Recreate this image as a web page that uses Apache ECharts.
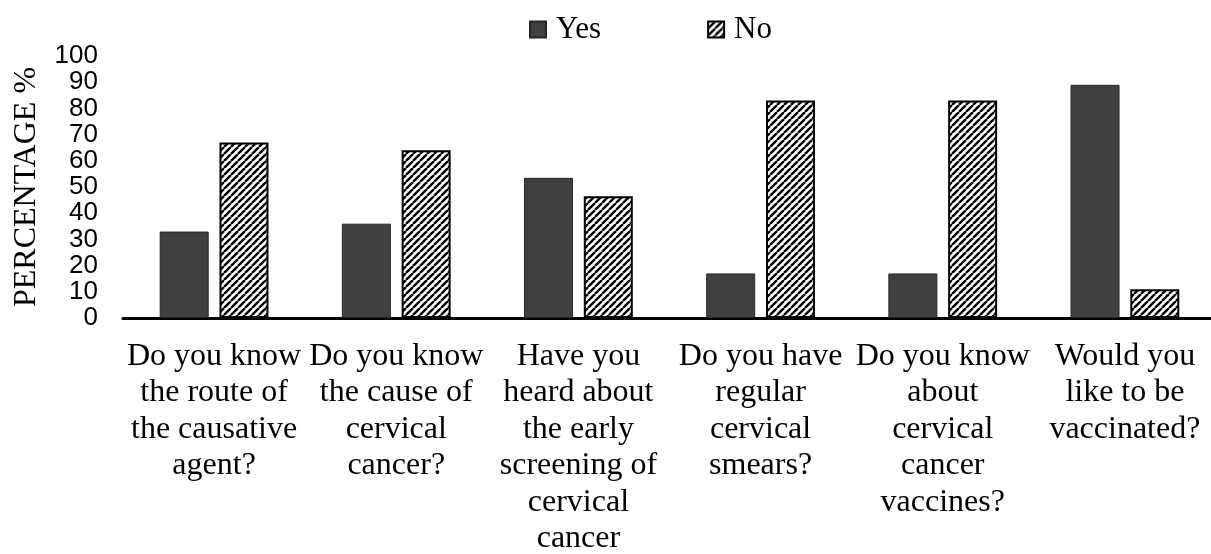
<!DOCTYPE html>
<html>
<head>
<meta charset="utf-8">
<script src="https://cdn.jsdelivr.net/npm/echarts@6/dist/echarts.min.js"></script>
<style>html,body{margin:0;padding:0;background:#fff}#c{width:1211px;height:554px}</style>
</head>
<body>
<div id="c"></div>
<script>
const categories = [
  "Do you know\nthe route of\nthe causative\nagent?",
  "Do you know\nthe cause of\ncervical\ncancer?",
  "Have you\nheard about\nthe early\nscreening of\ncervical\ncancer",
  "Do you have\nregular\ncervical\nsmears?",
  "Do you know\nabout\ncervical\ncancer\nvaccines?",
  "Would you\nlike to be\nvaccinated?"
];
const yesValues = [33, 36, 53.5, 17, 17, 89];
const noValues = [67, 64, 46.5, 83, 83, 11];
const seriesNames = ["Yes", "No"];
const yTicks = { min: 0, max: 100, interval: 10 };

function hatch() {
  const s = 7;
  const c = document.createElement('canvas');
  c.width = s; c.height = s;
  const g = c.getContext('2d');
  g.fillStyle = '#fff';
  g.fillRect(0, 0, s, s);
  g.strokeStyle = '#000';
  g.lineWidth = 2.4;
  g.beginPath();
  for (let k = -1; k <= 1; k++) {
    g.moveTo(k * s, s);
    g.lineTo(k * s + s, 0);
  }
  g.stroke();
  return c;
}

const serif = "'Liberation Serif','Times New Roman',serif";
const chart = echarts.init(document.getElementById('c'), null, { renderer: 'canvas' });
chart.setOption({
  animation: false,
  backgroundColor: '#fff',
  legend: {
    top: 14,
    left: 529,
    padding: 0,
    icon: 'rect',
    itemWidth: 16,
    itemHeight: 16,
    itemGap: 106,
    textStyle: { fontFamily: serif, fontSize: 31, color: '#000', padding: [0, 0, 0, 5] },
    data: seriesNames
  },
  grid: { left: 123, right: -5, top: 56, bottom: 236, containLabel: false, outerBoundsMode: 'none' },
  xAxis: {
    type: 'category',
    data: categories,
    axisLine: { show: true, lineStyle: { color: '#000', width: 3 } },
    axisTick: { show: false },
    axisLabel: {
      interval: 0,
      margin: 20,
      fontFamily: serif,
      fontSize: 32,
      lineHeight: 36.5,
      color: '#000',
      hideOverlap: false
    }
  },
  yAxis: {
    type: 'value',
    min: yTicks.min,
    max: yTicks.max,
    interval: yTicks.interval,
    name: 'PERCENTAGE %',
    nameLocation: 'middle',
    nameGap: 80,
    nameTextStyle: { fontFamily: serif, fontSize: 32, color: '#000' },
    axisLine: { show: false },
    axisTick: { show: false },
    splitLine: { show: false },
    axisLabel: {
      margin: 25,
      padding: [4, 0, 0, 0],
      fontFamily: "'Liberation Sans', Arial, sans-serif",
      fontSize: 26,
      color: '#000'
    }
  },
  series: [
    {
      name: seriesNames[0],
      type: 'bar',
      data: yesValues,
      barWidth: 49,
      barGap: '22%',
      itemStyle: { color: '#404040', borderColor: '#262626', borderWidth: 1 }
    },
    {
      name: seriesNames[1],
      type: 'bar',
      data: noValues,
      barWidth: 49,
      barGap: '22%',
      itemStyle: { color: { image: hatch(), repeat: 'repeat' }, borderColor: '#000', borderWidth: 2 }
    }
  ]
});
</script>
</body>
</html>
